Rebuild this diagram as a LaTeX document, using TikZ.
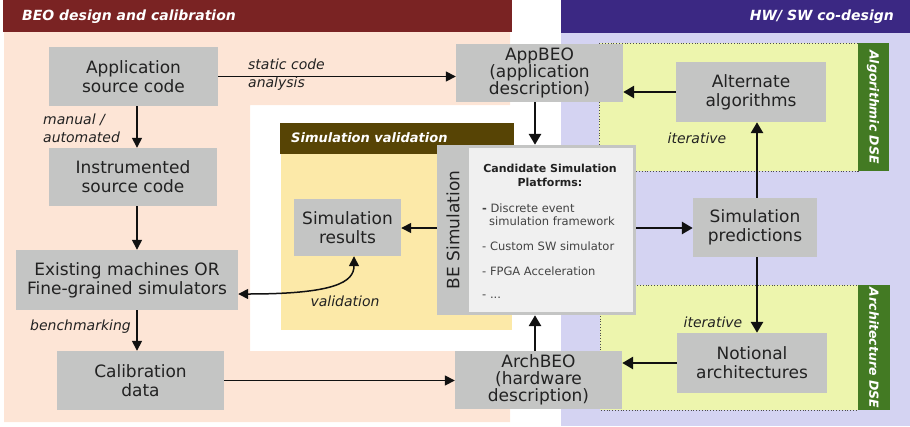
\documentclass[tikz,border=0pt]{standalone}
\usepackage{fontspec}
\setmainfont{DejaVu Sans}
\usetikzlibrary{arrows.meta,calc}

\definecolor{beohead}{HTML}{7A2323}
\definecolor{beobg}{HTML}{FDE5D6}
\definecolor{hwhead}{HTML}{3B2883}
\definecolor{hwbg}{HTML}{D4D3F2}
\definecolor{valhead}{HTML}{574405}
\definecolor{valbg}{HTML}{FCE9A8}
\definecolor{dsebg}{HTML}{EDF5AD}
\definecolor{dsebar}{HTML}{437A23}
\definecolor{nodegray}{HTML}{C4C5C4}
\definecolor{candbg}{HTML}{F0F0F0}
\definecolor{txt}{HTML}{222222}
\definecolor{arrc}{HTML}{111111}

\begin{document}
\begin{tikzpicture}[x=1pt,y=-1pt,
  box/.style={fill=nodegray, draw=none, inner sep=0pt, align=center, text=txt,
    font=\fontsize{17}{19}\selectfont},
  tallbox/.style={box, font=\fontsize{17}{17}\selectfont},
  headtext/.style={text=white, inner sep=0pt, font=\bfseries\itshape\fontsize{14}{16}\selectfont},
  bartext/.style={text=white, inner sep=0pt, font=\bfseries\itshape\fontsize{12.5}{14}\selectfont},
  lbl/.style={text=txt, inner sep=0pt, align=left, font=\itshape\fontsize{14}{18}\selectfont},
  item/.style={text=txt!85!white, inner sep=0pt, anchor=west, font=\fontsize{11.5}{14}\selectfont},
  thinarr/.style={draw=arrc, line width=1.5pt, -{Triangle[length=10pt,width=10pt]}},
  thickarr/.style={draw=arrc, line width=2.8pt, -{Triangle[length=11pt,width=12pt]}},
  dsebox/.style={fill=dsebg, draw=black!70, dotted, line width=0.8pt},
]
\useasboundingbox (0,0) rectangle (910,426);

% ---- region backgrounds ----
\fill[beobg] (4,32) -- (510,32) -- (510,105) -- (250,105) -- (250,351)
  -- (510,351) -- (510,422) -- (4,422) -- cycle;
\fill[beohead] (3,0) rectangle (512,32);
\node[headtext, anchor=west] at (22,17) {BEO design and calibration};

\fill[hwbg] (561,33) rectangle (910,426);
\fill[hwhead] (561,0) rectangle (910,33);
\node[headtext, anchor=east] at (894,17) {HW/ SW co-design};

\fill[valbg] (281,154) rectangle (512,330);
\fill[valhead] (280,123) rectangle (514,154);
\node[headtext, anchor=west, font=\bfseries\itshape\fontsize{13}{15}\selectfont] at (291,138) {Simulation validation};

% ---- design space exploration panels ----
\draw[dsebox] (599,43) rectangle (858,171);
\fill[dsebar] (858,43) rectangle (889,171);
\node[bartext, rotate=-90] at (873,107) {Algorithmic DSE};

\draw[dsebox] (600,285) rectangle (858,410);
\fill[dsebar] (858,285) rectangle (890,410);
\node[bartext, rotate=-90] at (874,348) {Architecture DSE};

% ---- process nodes ----
\node[box, minimum width=169, minimum height=59] (src) at (133.5,76.5) {Application\\source code};
\node[box, minimum width=168, minimum height=58] (instr) at (133,177) {Instrumented\\source code};
\node[box, minimum width=222, minimum height=60] (exist) at (127,280) {Existing machines OR\\Fine-grained simulators};
\node[box, minimum width=167, minimum height=59] (calib) at (140.5,380.5) {Calibration\\data};
\node[box, minimum width=107, minimum height=57] (results) at (347.5,227.5) {Simulation\\results};
\node[tallbox, minimum width=167, minimum height=58] (appbeo) at (539.5,73) {AppBEO\\(application\\description)};
\node[tallbox, minimum width=167, minimum height=58] (archbeo) at (538.5,380) {ArchBEO\\(hardware\\description)};
\node[box, minimum width=150, minimum height=60] (alt) at (751,92) {Alternate\\algorithms};
\node[box, minimum width=124, minimum height=59] (pred) at (755,227.5) {Simulation\\predictions};
\node[box, minimum width=150, minimum height=60] (notional) at (752,363) {Notional\\architectures};

% ---- BE simulation block with its candidate platforms ----
\node[box, minimum width=199, minimum height=170] (besim) at (536.5,230) {};
\node[fill=candbg, inner sep=0pt, minimum width=164, minimum height=164] (cand) at (551,230) {};
\node[text=txt, inner sep=0pt, rotate=90, font=\fontsize{17}{19}\selectfont] (belbl) at (453,230) {BE Simulation};
\node[text=txt, inner sep=0pt, align=center, font=\bfseries\fontsize{11}{14}\selectfont] (candtitle) at (550,175) {Candidate Simulation\\Platforms:};
\node[item] (it1) at (482,208) {\textbf{-} Discrete event};
\node[item] (it1b) at (489,221) {simulation framework};
\node[item] (it2) at (482,246) {- Custom SW simulator};
\node[item] (it3) at (482,271) {- FPGA Acceleration};
\node[item] (it4) at (482,297) {- ...};

% ---- helper coordinates for straight connectors ----
\coordinate (cL) at (137,0);
\coordinate (cM) at (535,0);
\coordinate (cR) at (757,0);
\coordinate (rS) at (0,228);
\coordinate (rV) at (0,294);
\coordinate (cV) at (354,0);

% ---- connectors ----
\draw[thinarr] (src.east) -- (appbeo.west |- src.east);
\draw[thinarr] (src.south -| cL) -- (instr.north -| cL);
\draw[thinarr] (instr.south -| cL) -- (exist.north -| cL);
\draw[thinarr] (exist.south -| cL) -- (calib.north -| cL);
\draw[thinarr] (calib.east) -- (archbeo.west |- calib.east);
\draw[thinarr] (besim.west |- rS) -- (results.east |- rS);
\draw[thinarr, {Triangle[length=10pt,width=10pt]}-{Triangle[length=10pt,width=10pt]}]
  (exist.east |- rV) .. controls (335,294) and (354,282) .. (results.south -| cV);

\draw[thickarr] (appbeo.south -| cM) -- (besim.north -| cM);
\draw[thickarr] (archbeo.north -| cM) -- (besim.south -| cM);
\draw[thickarr] (besim.east |- rS) -- (pred.west |- rS);
\draw[thickarr] (pred.north -| cR) -- (alt.south -| cR);
\draw[thickarr] (pred.south -| cR) -- (notional.north -| cR);
\draw[thickarr] (alt.west) -- (appbeo.east |- alt.west);
\draw[thickarr] (notional.west) -- (archbeo.east |- notional.west);

% ---- connector labels ----
\node[lbl, anchor=west] (lsca) at (248,75) {static code\\analysis};
\node[lbl, anchor=west] (lman) at (43,128) {manual /\\automated};
\node[lbl, anchor=east] (lbench) at (131,327) {benchmarking};
\node[lbl] (lval) at (345,301) {validation};
\node[lbl] (lit1) at (697,138) {iterative};
\node[lbl] (lit2) at (713,322) {iterative};
\end{tikzpicture}
\end{document}
